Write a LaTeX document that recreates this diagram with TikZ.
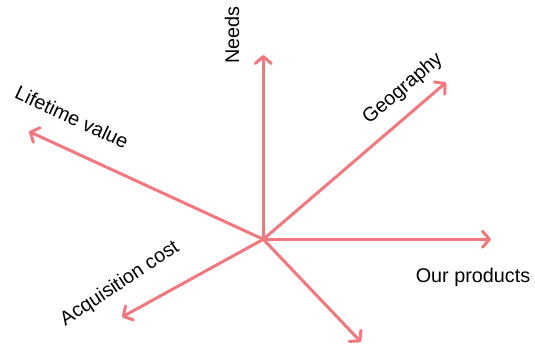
\documentclass[tikz,border=0pt]{standalone}
\usepackage{fontspec}
\setmainfont{Liberation Sans}
\usetikzlibrary{arrows.meta}
\definecolor{raycol}{RGB}{240,120,126}
\begin{document}
\begin{tikzpicture}[x=1pt,y=-1pt,
  ray/.style={draw=raycol,line width=3pt,line cap=round,
    -{Straight Barb[length=7pt,width=16pt,line width=3pt,line cap=round,round]}},
  lbl/.style={font=\fontsize{19.8}{22}\selectfont,inner sep=0pt}]
\useasboundingbox (0,0) rectangle (535,345);
\coordinate (o) at (263.3,239.3);
\coordinate (needs) at (263.3,55);
\coordinate (geo) at (446,82.5);
\coordinate (life) at (29,131.5);
\coordinate (prod) at (491,239.3);
\coordinate (acq) at (122,317);
\coordinate (low) at (361,342);
\draw[ray] (o) -- (needs);
\draw[ray] (o) -- (geo);
\draw[ray] (o) -- (life);
\draw[ray] (o) -- (prod);
\draw[ray] (o) -- (acq);
\draw[ray] (o) -- (low);
\node[lbl,rotate=90] (tneeds) at (232,35) {Needs};
\node[lbl,rotate=40.6] (tgeo) at (403,89) {Geography};
\node[lbl,rotate=-25] (tlife) at (72,117) {Lifetime value};
\node[lbl] (tprod) at (473,277) {Our products};
\node[lbl,rotate=33.5] (tacq) at (120,284) {Acquisition cost};
\end{tikzpicture}
\end{document}
